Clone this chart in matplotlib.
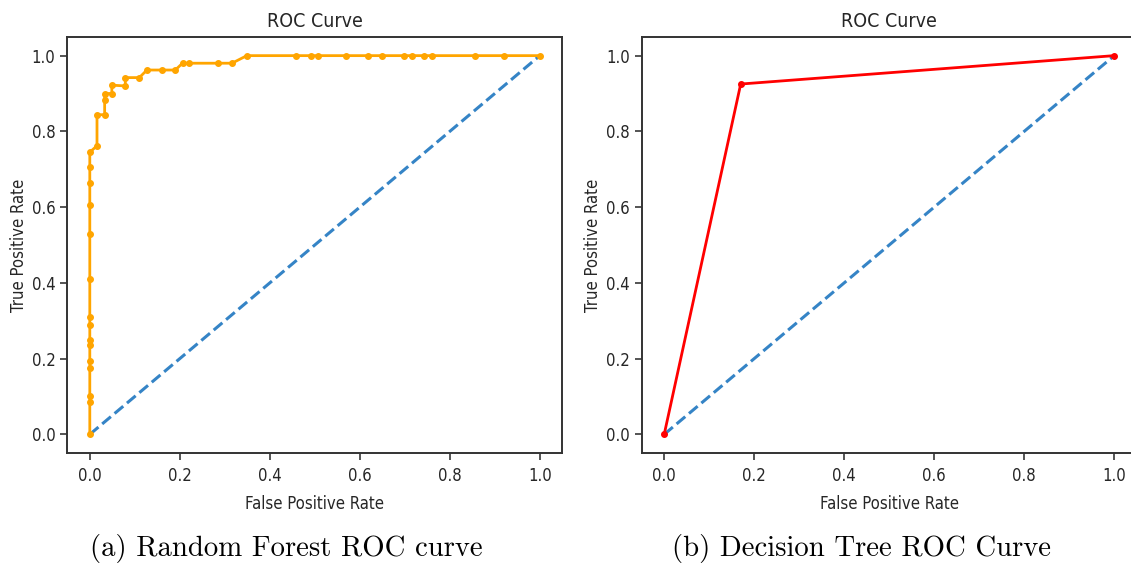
import matplotlib
matplotlib.use("Agg")
import matplotlib.pyplot as plt
from matplotlib import font_manager as fm

# ---------------- data ----------------
rf_fpr = [0, 0, 0, 0, 0, 0, 0, 0, 0, 0, 0, 0, 0, 0, 0,
          0.016, 0.016, 0.033, 0.033, 0.033, 0.049, 0.049, 0.079, 0.079,
          0.11, 0.127, 0.16, 0.19, 0.206, 0.221, 0.284, 0.316, 0.349,
          0.459, 0.492, 0.508, 0.570, 0.619, 0.649, 0.698, 0.715, 0.743,
          0.760, 0.855, 0.921, 1.0]
rf_tpr = [0, 0.085, 0.10, 0.175, 0.195, 0.235, 0.25, 0.29, 0.31, 0.41,
          0.53, 0.605, 0.665, 0.705, 0.745,
          0.762, 0.844, 0.844, 0.882, 0.90, 0.90, 0.922, 0.92, 0.942,
          0.942, 0.962, 0.962, 0.962, 0.98, 0.98, 0.98, 0.98, 1.0,
          1.0, 1.0, 1.0, 1.0, 1.0, 1.0, 1.0, 1.0, 1.0,
          1.0, 1.0, 1.0, 1.0]
dt_fpr = [0, 0.17, 1.0]
dt_tpr = [0, 0.925, 1.0]
chance = [0, 1]

title_text = "ROC Curve"
xlabel_text = "False Positive Rate"
ylabel_text = "True Positive Rate"
captions = ["(a) Random Forest ROC curve", "(b) Decision Tree ROC Curve"]
ticks = [0.0, 0.2, 0.4, 0.6, 0.8, 1.0]

# ---------------- fonts ----------------
names = {f.name for f in fm.fontManager.ttflist}
stretch = "normal"
if any(f.name == "DejaVu Sans" and "condensed" in str(f.stretch) for f in fm.fontManager.ttflist):
    sans = "DejaVu Sans"
    stretch = "condensed"
    fs_tick, fs_label, fs_title = 12, 12, 14
elif "Liberation Sans Narrow" in names:
    sans = "Liberation Sans Narrow"
    fs_tick, fs_label, fs_title = 13, 14, 16
else:
    sans = "DejaVu Sans"
    fs_tick, fs_label, fs_title = 10.5, 11, 12.5

plt.rcParams["font.family"] = [sans, "DejaVu Sans"]
plt.rcParams["font.stretch"] = stretch
serif = "cmr10" if "cmr10" in names else "DejaVu Serif"

W, H = 1131, 577
fig = plt.figure(figsize=(W / 100, H / 100), dpi=100)

text_col = "#262626"


def make_axes(left_px):
    ax = fig.add_axes([left_px / W, (H - 453.3) / H, 495 / W, 416.6 / H])
    for s in ax.spines.values():
        s.set_color("#333333")
        s.set_linewidth(1.4)
    ax.set_xticks(ticks)
    ax.set_yticks(ticks)
    ax.tick_params(labelsize=fs_tick, colors=text_col, length=5, width=1.1)
    ax.tick_params(axis="x", pad=5)
    ax.set_title(title_text, fontsize=fs_title, color=text_col, pad=7)
    ax.set_xlabel(xlabel_text, fontsize=fs_label, color=text_col, labelpad=7)
    ax.set_ylabel(ylabel_text, fontsize=fs_label, color=text_col, labelpad=3)
    return ax


ax1 = make_axes(67.3)
ax1.plot(chance, chance, linestyle="--", color="#3584c6", lw=2.2)
ax1.plot(rf_fpr, rf_tpr, marker=".", color="orange", lw=2.0, ms=8)
ax1.set_xlim(-0.05, 1.05)
ax1.set_ylim(-0.05, 1.05)

ax2 = make_axes(641.7)
ax2.plot(chance, chance, linestyle="--", color="#3584c6", lw=2.2)
ax2.plot(dt_fpr, dt_tpr, marker=".", color="red", lw=2.0, ms=8)
ax2.set_xlim(-0.05, 1.05)
ax2.set_ylim(-0.05, 1.05)

fig.text(286 / W, 1 - 548 / H, captions[0], family=serif, fontsize=20.7,
         ha="center", va="center", color="black")
fig.text(861 / W, 1 - 548 / H, captions[1], family=serif, fontsize=20.7,
         ha="center", va="center", color="black")

fig.savefig("out.png", dpi=100)
